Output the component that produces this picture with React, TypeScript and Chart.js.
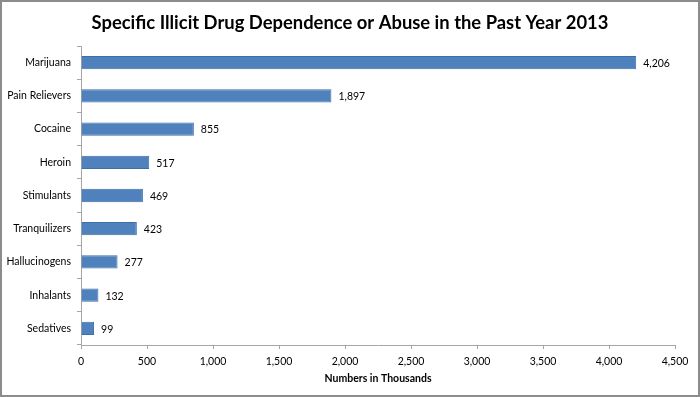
import React, { useEffect, useRef } from "react";
import { Chart, registerables } from "chart.js";

Chart.register(...registerables);

const categories = ["Marijuana", "Pain Relievers", "Cocaine", "Heroin", "Stimulants", "Tranquilizers", "Hallucinogens", "Inhalants", "Sedatives"];
const values = [4206, 1897, 855, 517, 469, 423, 277, 132, 99];
const xTicks = [0, 500, 1000, 1500, 2000, 2500, 3000, 3500, 4000, 4500];
const chartTitle = "Specific Illicit Drug Dependence or Abuse in the Past Year 2013";

const FONT = "Lato, 'Liberation Sans', sans-serif";

const extras = {
  id: "extras",
  afterDatasetsDraw(chart: any) {
    const ctx = chart.ctx;
    const meta = chart.getDatasetMeta(0);
    ctx.save();
    ctx.font = `10.5px ${FONT}`;
    ctx.fillStyle = "#000";
    ctx.textAlign = "left";
    ctx.textBaseline = "middle";
    meta.data.forEach((el: any, i: number) => {
      ctx.fillText(values[i].toLocaleString("en-US"), el.x + 7, el.y + 1);
    });
    ctx.font = `bold 18.4px ${FONT}`;
    ctx.textAlign = "center";
    ctx.fillText(chartTitle, chart.width / 2, 23);
    ctx.restore();
  },
};

export default function App() {
  const ref = useRef<HTMLCanvasElement>(null);
  useEffect(() => {
    const chart = new Chart(ref.current!, {
      type: "bar",
      data: {
        labels: categories,
        datasets: [
          {
            data: values,
            backgroundColor: "#4F81BD",
            borderColor: "#3C6EA8",
            borderWidth: 1,
            barPercentage: 0.4,
            categoryPercentage: 1,
          },
        ],
      },
      options: {
        indexAxis: "y",
        animation: false,
        responsive: false,
        layout: { padding: { left: 0, right: 25, top: 46, bottom: 12 } },
        plugins: {
          legend: { display: false },
          tooltip: { enabled: false },
          title: { display: false },
        },
        scales: {
          x: {
            min: 0,
            max: 4500,
            afterBuildTicks(scale: any) {
              scale.ticks = xTicks.map((v) => ({ value: v }));
            },
            afterFit(scale: any) {
              scale.height = 40;
            },
            ticks: {
              color: "#000",
              font: { family: FONT, size: 10.5 },
              padding: 6,
              maxRotation: 0,
              callback: (v: any) => Number(v).toLocaleString("en-US"),
            },
            grid: { drawOnChartArea: false, drawTicks: true, tickLength: 4, color: "#A6A6A6" },
            border: { display: true, color: "#A6A6A6" },
            title: {
              display: true,
              text: "Numbers in Thousands",
              color: "#000",
              font: { family: FONT, size: 10.5, weight: "bold" },
              padding: { top: 2, bottom: 0 },
            },
          },
          y: {
            afterFit(scale: any) {
              scale.width = 81;
            },
            ticks: {
              color: "#000",
              font: { family: FONT, size: 10.5 },
              padding: 6,
            },
            grid: { drawOnChartArea: false, drawTicks: true, tickLength: 4, color: "#A6A6A6", offset: true },
            border: { display: true, color: "#A6A6A6" },
          },
        },
      },
      plugins: [extras],
    });
    return () => chart.destroy();
  }, []);
  return (
    <div style={{ position: "absolute", left: 0, top: 0, width: 700, height: 397, boxSizing: "border-box", background: "#fff" }}>
      <canvas ref={ref} width={700} height={397} style={{ display: "block" }} />
      <div style={{ position: "absolute", inset: 0, border: "2px solid #8C8C8C", pointerEvents: "none" }} />
    </div>
  );
}
